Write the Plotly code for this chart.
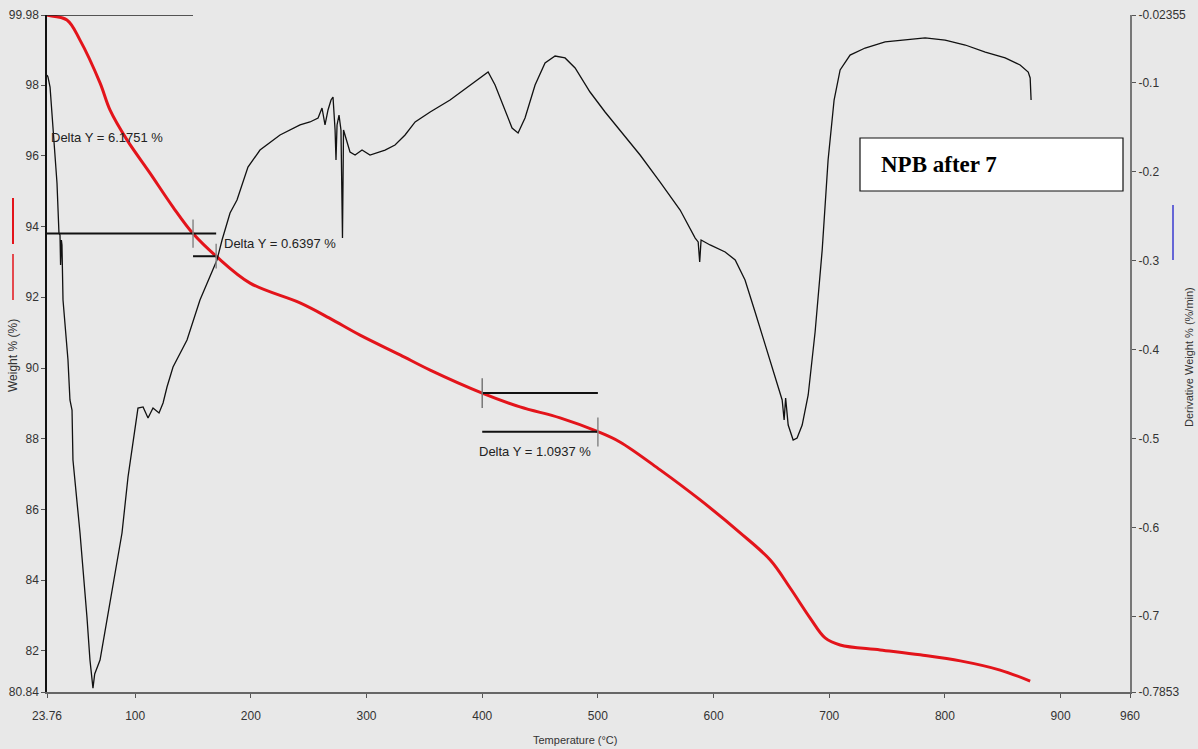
import plotly.graph_objects as go

# ---------------- data ----------------
# TGA curve: Weight % vs Temperature (°C)
tga_temp = [23.76, 24.6, 41.0, 52.3, 69.6, 78.3, 92.9, 112.8, 132.7, 150.0, 170.0,
            199.3, 242.5, 268.0, 294.4, 329.0, 355.0, 400.0, 432.7, 467.3, 500.0,
            519.0, 553.8, 588.4, 623.0, 649.0, 666.2, 683.5, 696.4, 709.4, 744.0,
            778.6, 813.3, 847.7, 873.7]
tga_weight = [99.98, 99.97, 99.84, 99.27, 98.06, 97.29, 96.45, 95.51, 94.55, 93.80, 93.16,
              92.40, 91.84, 91.41, 90.93, 90.37, 89.94, 89.29, 88.90, 88.59, 88.20,
              87.91, 87.12, 86.27, 85.34, 84.57, 83.78, 82.93, 82.37, 82.17, 82.03,
              81.89, 81.72, 81.46, 81.15]

# DTG curve: Derivative Weight % (%/min) vs Temperature (°C)
dtg_temp = [23.76, 24.6, 26.4, 29.0, 32.4, 34.1, 35.0, 35.5, 36.2, 36.7, 37.6, 41.9, 43.6,
            45.4, 46.2, 52.3, 58.3, 60.9, 63.5, 65.0, 69.6, 75.6, 82.6, 88.6, 93.8, 99.8,
            102.4, 106.8, 111.1, 115.4, 120.6, 124.1, 127.5, 132.7, 144.8, 156.0, 170.7,
            175.1, 182.0, 188.0, 197.5, 207.9, 225.2, 242.5, 251.1, 258.1, 261.5, 264.1,
            266.7, 269.3, 271.0, 272.8, 273.6, 274.5, 276.2, 277.9, 279.2, 280.1, 281.4,
            285.7, 290.1, 296.1, 303.0, 316.0, 324.6, 333.3, 342.0, 355.0, 372.2, 389.5,
            398.1, 405.1, 411.1, 419.8, 425.8, 431.0, 437.0, 445.7, 454.3, 463.0, 471.6,
            480.3, 493.2, 506.2, 519.2, 536.5, 553.8, 571.1, 584.1, 586.7, 588.0, 589.2,
            597.0, 610.0, 618.7, 627.2, 635.9, 644.5, 653.2, 659.3, 661.0, 662.3, 664.5,
            668.8, 672.2, 676.6, 681.8, 687.8, 693.9, 699.0, 704.2, 709.4, 718.0, 731.0,
            748.3, 765.6, 782.9, 800.2, 817.6, 834.9, 852.1, 865.0, 872.0, 873.7, 874.5]
dtg_value = [-0.0911, -0.0933, -0.1046, -0.1507, -0.2126, -0.2689, -0.2711, -0.3048, -0.2767,
             -0.2823, -0.3442, -0.4117, -0.4567, -0.4680, -0.5243, -0.6064, -0.7009, -0.7493,
             -0.7810, -0.7650, -0.7493, -0.7043, -0.6559, -0.6064, -0.5434, -0.4871, -0.4658,
             -0.4646, -0.4770, -0.4658, -0.4714, -0.4601, -0.4421, -0.4196, -0.3893, -0.3442,
             -0.2992, -0.2767, -0.2463, -0.2317, -0.1946, -0.1755, -0.1586, -0.1473, -0.1439,
             -0.1394, -0.1282, -0.1473, -0.1304, -0.1192, -0.1158, -0.1530, -0.1867, -0.1473,
             -0.1361, -0.1530, -0.2745, -0.1530, -0.1586, -0.1777, -0.1811, -0.1755, -0.1811,
             -0.1755, -0.1698, -0.1586, -0.1439, -0.1327, -0.1192, -0.1023, -0.0944, -0.0877,
             -0.1023, -0.1304, -0.1507, -0.1563, -0.1394, -0.1023, -0.0776, -0.0697, -0.0719,
             -0.0832, -0.1102, -0.1327, -0.1530, -0.1811, -0.2115, -0.2430, -0.2745, -0.2789,
             -0.3015, -0.2767, -0.2823, -0.2902, -0.2992, -0.3217, -0.3577, -0.3949, -0.4320,
             -0.4567, -0.4793, -0.4545, -0.4849, -0.5018, -0.4995, -0.4849, -0.4511, -0.3799,
             -0.2880, -0.1867, -0.1192, -0.0854, -0.0686, -0.0607, -0.0539, -0.0517, -0.0494,
             -0.0517, -0.0573, -0.0652, -0.0719, -0.0798, -0.0877, -0.0944, -0.1192]

# Axis ticks
x_tickvals = [23.76, 100, 200, 300, 400, 500, 600, 700, 800, 900, 960]
x_ticktext = ["23.76", "100", "200", "300", "400", "500", "600", "700", "800", "900", "960"]
y_tickvals = [80.84, 82, 84, 86, 88, 90, 92, 94, 96, 98, 99.98]
y_ticktext = ["80.84", "82", "84", "86", "88", "90", "92", "94", "96", "98", "99.98"]
y2_tickvals = [-0.7853, -0.7, -0.6, -0.5, -0.4, -0.3, -0.2, -0.1, -0.02355]
y2_ticktext = ["-0.7853", "-0.7", "-0.6", "-0.5", "-0.4", "-0.3", "-0.2", "-0.1", "-0.02355"]

# Delta-Y step analyses: (T start, T end, W start, W end, label)
delta_t0 = [23.76, 150.0, 400.0]
delta_t1 = [150.0, 170.0, 500.0]
delta_w0 = [99.98, 93.80, 89.29]
delta_w1 = [93.80, 93.16, 88.20]
delta_labels = ["Delta Y = 6.1751 %", "Delta Y = 0.6397 %", "Delta Y = 1.0937 %"]

# ---------------- figure ----------------
W, H = 1198, 749
ML, MR, MT, MB = 47, 68, 15, 57
PW, PH = W - ML - MR, H - MT - MB

def px(xp):
    return (xp - ML) / PW

def py(yp):
    return (H - MB - yp) / PH

FONT = "Liberation Sans Narrow, Arial Narrow, Liberation Sans, Arial, sans-serif"
BG = "#e8e8e8"

fig = go.Figure()
fig.add_trace(go.Scatter(x=dtg_temp, y=dtg_value, yaxis="y2", mode="lines",
                         line=dict(color="#111111", width=1.3), showlegend=False))
fig.add_trace(go.Scatter(x=tga_temp, y=tga_weight, mode="lines", line_shape="spline",
                         line=dict(color="#e3141b", width=3), showlegend=False))

shapes = []
annotations = []
# Step 1: 6.1751 %
shapes.append(dict(type="line", xref="x", yref="y", x0=delta_t0[0], x1=delta_t1[0],
                   y0=delta_w0[0], y1=delta_w0[0], line=dict(color="#222", width=1.5)))
shapes.append(dict(type="line", xref="x", yref="y", x0=delta_t0[0], x1=delta_t1[1],
                   y0=delta_w1[0], y1=delta_w1[0], line=dict(color="#111", width=2)))
shapes.append(dict(type="line", xref="x", yref="y", x0=delta_t1[0], x1=delta_t1[0],
                   y0=delta_w1[0] + 0.4, y1=delta_w1[0] - 0.4, line=dict(color="#888", width=1.5)))
# Step 2: 0.6397 %
shapes.append(dict(type="line", xref="x", yref="y", x0=delta_t0[1], x1=delta_t1[1],
                   y0=delta_w1[1], y1=delta_w1[1], line=dict(color="#111", width=2)))
shapes.append(dict(type="line", xref="x", yref="y", x0=delta_t1[1], x1=delta_t1[1],
                   y0=delta_w1[1] + 0.35, y1=delta_w1[1] - 0.35, line=dict(color="#888", width=1.5)))
# Step 3: 1.0937 %
shapes.append(dict(type="line", xref="x", yref="y", x0=delta_t0[2], x1=delta_t1[2],
                   y0=delta_w0[2], y1=delta_w0[2], line=dict(color="#111", width=2)))
shapes.append(dict(type="line", xref="x", yref="y", x0=delta_t0[2], x1=delta_t0[2],
                   y0=delta_w0[2] + 0.42, y1=delta_w0[2] - 0.42, line=dict(color="#777", width=1.5)))
shapes.append(dict(type="line", xref="x", yref="y", x0=delta_t0[2], x1=delta_t1[2],
                   y0=delta_w1[2], y1=delta_w1[2], line=dict(color="#111", width=2)))
shapes.append(dict(type="line", xref="x", yref="y", x0=delta_t1[2], x1=delta_t1[2],
                   y0=delta_w1[2] + 0.4, y1=delta_w1[2] - 0.42, line=dict(color="#888", width=1.5)))

# Delta labels
annotations.append(dict(xref="x", yref="y", x=25.5, y=96.53, text=delta_labels[0],
                        showarrow=False, xanchor="left", yanchor="middle",
                        font=dict(family=FONT, size=13, color="#222")))
annotations.append(dict(xref="x", yref="y", x=175.1, y=93.51, text=delta_labels[1],
                        showarrow=False, xanchor="left", yanchor="middle",
                        font=dict(family=FONT, size=13, color="#222")))
annotations.append(dict(xref="x", yref="y", x=395.5, y=87.63, text=delta_labels[2],
                        showarrow=False, xanchor="left", yanchor="middle",
                        font=dict(family=FONT, size=13, color="#222")))

# Sample box
shapes.append(dict(type="rect", xref="paper", yref="paper", x0=px(860), x1=px(1123),
                   y0=py(191), y1=py(138), fillcolor="white", line=dict(color="#111", width=1.2),
                   layer="above"))
annotations.append(dict(xref="paper", yref="paper", x=px(879), y=py(165), text="<b>NPB after 7</b>",
                        showarrow=False, xanchor="left", yanchor="middle",
                        font=dict(family="Liberation Serif, Times New Roman, serif", size=23, color="#000")))

# Axis titles
annotations.append(dict(xref="paper", yref="paper", x=px(575), y=py(740), text="Temperature (°C)",
                        showarrow=False, xanchor="center", yanchor="middle",
                        font=dict(family=FONT, size=11, color="#333")))
annotations.append(dict(xref="paper", yref="paper", x=px(13), y=py(356), text="Weight % (%)",
                        textangle=-90, showarrow=False, xanchor="center", yanchor="middle",
                        font=dict(family=FONT, size=12, color="#333")))
annotations.append(dict(xref="paper", yref="paper", x=px(1189), y=py(357),
                        text="Derivative Weight % (%/min)",
                        textangle=-90, showarrow=False, xanchor="center", yanchor="middle",
                        font=dict(family=FONT, size=11, color="#333")))
# Series markers beside the axis titles
shapes.append(dict(type="line", xref="paper", yref="paper", x0=px(13), x1=px(13),
                   y0=py(198), y1=py(244), line=dict(color="#e3141b", width=2)))
shapes.append(dict(type="line", xref="paper", yref="paper", x0=px(13), x1=px(13),
                   y0=py(254), y1=py(300), line=dict(color="#e3141b", width=1.5)))
shapes.append(dict(type="line", xref="paper", yref="paper", x0=px(1173), x1=px(1173),
                   y0=py(205), y1=py(260), line=dict(color="#3b3bd0", width=1.5)))

tickfont = dict(family=FONT, size=12, color="#333")
fig.update_layout(
    width=W, height=H,
    margin=dict(l=ML, r=MR, t=MT, b=MB, autoexpand=False),
    paper_bgcolor=BG, plot_bgcolor=BG,
    showlegend=False,
    shapes=shapes, annotations=annotations,
    xaxis=dict(range=[23.76, 960], tickmode="array", tickvals=x_tickvals, ticktext=x_ticktext,
               showgrid=False, zeroline=False, showline=True, linecolor="#666", linewidth=2,
               ticks="outside", ticklen=4, tickcolor="#555", tickfont=tickfont, automargin=False,
               ticklabelstandoff=8),
    yaxis=dict(range=[80.84, 99.98], tickmode="array", tickvals=y_tickvals, ticktext=y_ticktext,
               showgrid=False, zeroline=False, showline=True, linecolor="#111", linewidth=1.5,
               ticks="outside", ticklen=4, tickcolor="#555", tickfont=tickfont, automargin=False),
    yaxis2=dict(range=[-0.7853, -0.02355], overlaying="y", side="right", tickmode="array",
                tickvals=y2_tickvals, ticktext=y2_ticktext, showgrid=False, zeroline=False,
                showline=True, linecolor="#777", linewidth=2, ticks="outside", ticklen=4,
                tickcolor="#555", tickfont=tickfont, automargin=False),
)

fig.write_html("out.html", config={"displayModeBar": False},
               post_script="document.body.style.margin='0';document.body.style.padding='0';"
                           "document.body.style.overflow='hidden';")
